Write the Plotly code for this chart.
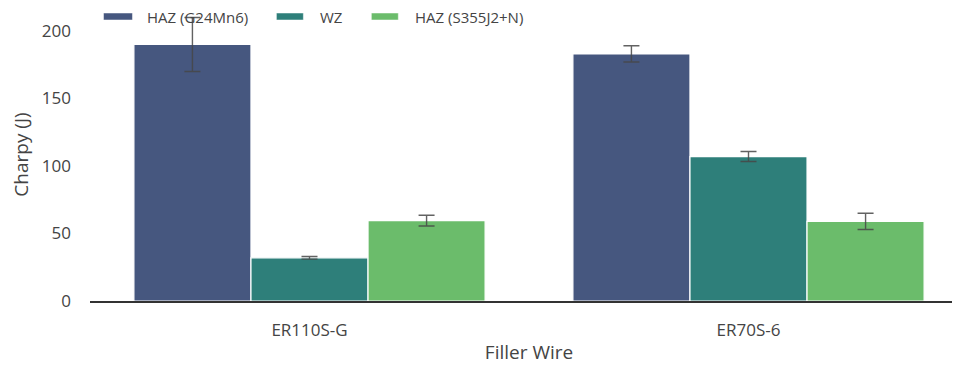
import plotly.graph_objects as go

categories = ["ER110S-G", "ER70S-6"]
series_names = ["HAZ (G24Mn6)", "WZ", "HAZ (S355J2+N)"]
haz_g24 = [190, 183]
haz_g24_err = [20, 6]
wz = [32, 107]
wz_err = [1, 3.7]
haz_s355 = [59.5, 59]
haz_s355_err = [4, 6]
colors = ["#46577f", "#2e7f7a", "#6bbc6b"]
y_ticks = [0, 50, 100, 150, 200]

# the page body adds an 8px offset; figure pixels = screen pixels - 8
OFF = 8
W, H = 960, 366
L, R, T, B = 81.5, 0, 0, 73
FONT = "Open Sans"
TXT = "#444444"

fig = go.Figure()
for name, vals, errs, col in zip(series_names, [haz_g24, wz, haz_s355],
                                 [haz_g24_err, wz_err, haz_s355_err], colors):
    fig.add_trace(go.Bar(
        x=[0, 1], y=vals, name=name,
        marker=dict(color=col, line=dict(color="white", width=1.2)),
        error_y=dict(type="data", array=errs, color="rgba(70,70,70,0.85)",
                     thickness=1.4, width=8),
        showlegend=False,
    ))

pw = W - L - R
ph = H - T - B
def px(sx):
    return (sx - OFF - L) / pw
def py(sy):
    return (H - B - (sy - OFF)) / ph

leg = [(103, 132, 145), (276, 303, 318), (371, 398, 413)]
for (x0, x1, tx), name, col in zip(leg, series_names, colors):
    fig.add_shape(type="rect", xref="paper", yref="paper",
                  x0=px(x0), x1=px(x1), y0=py(20), y1=py(13),
                  fillcolor=col, line=dict(width=0.5, color="white"), layer="above")
    fig.add_annotation(xref="paper", yref="paper", x=px(tx), y=py(17),
                       text=name, showarrow=False, xanchor="left", yanchor="middle",
                       font=dict(family=FONT, size=15, color=TXT))

fig.update_layout(
    width=W, height=H,
    margin=dict(l=L, r=R, t=T, b=B, pad=0, autoexpand=False),
    plot_bgcolor="white", paper_bgcolor="white",
    barmode="group", bargap=0.2, bargroupgap=0,
    font=dict(family=FONT, size=16, color=TXT),
    xaxis=dict(
        range=[-0.5, 1.5], tickmode="array", tickvals=[0, 1], ticktext=categories,
        showgrid=False, zeroline=False, showline=True, linecolor="#333333", linewidth=2.2,
        ticks="", ticklabelstandoff=12, automargin=False,
        title=dict(text="Filler Wire", font=dict(family=FONT, size=19, color=TXT), standoff=6),
        tickfont=dict(family=FONT, size=17, color=TXT),
    ),
    yaxis=dict(
        range=[0, 217], tickmode="array", tickvals=y_ticks,
        showgrid=False, zeroline=False, showline=False, ticks="",
        ticklabelstandoff=18, automargin=False,
        title=dict(text="Charpy (J)", font=dict(family=FONT, size=19, color=TXT), standoff=10),
        tickfont=dict(family=FONT, size=17, color=TXT),
    ),
)

fig.write_html("out.html")
